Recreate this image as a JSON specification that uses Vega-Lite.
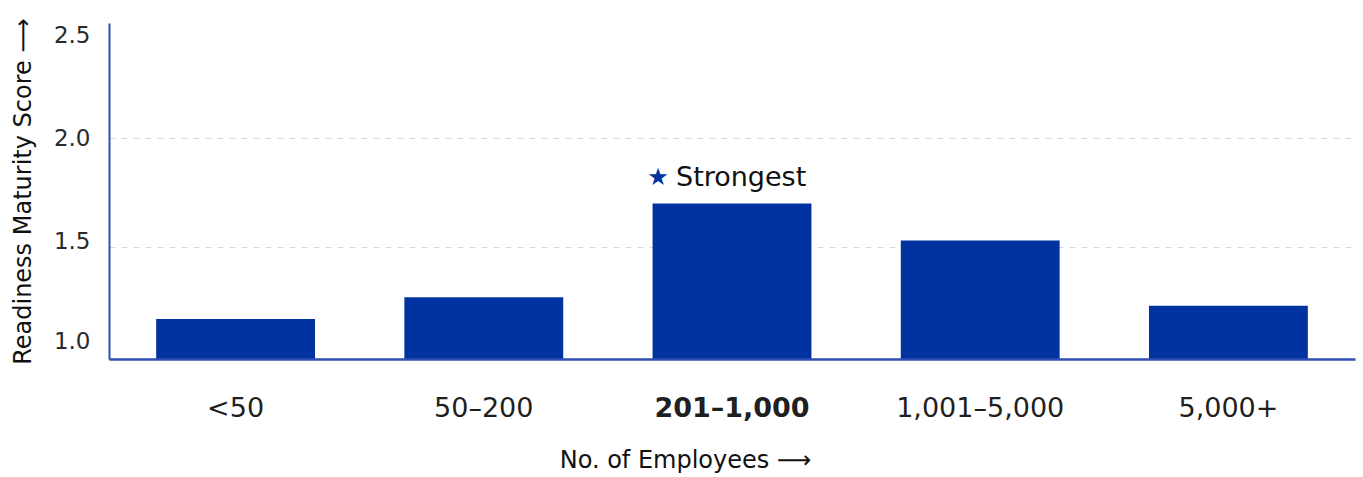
{
  "$schema": "https://vega.github.io/schema/vega-lite/v6.json",
  "autosize": "none",
  "width": 1246,
  "height": 336,
  "padding": {"left": 109, "top": 23, "right": 8, "bottom": 118},
  "background": "white",
  "config": {
    "view": {"stroke": null},
    "font": "DejaVu Sans",
    "text": {"font": "DejaVu Sans"}
  },
  "data": {
    "values": [
      {"size": "<50", "score": 1.17, "note": ""},
      {"size": "50–200", "score": 1.27, "note": ""},
      {"size": "201–1,000", "score": 1.70, "note": "Strongest"},
      {"size": "1,001–5,000", "score": 1.53, "note": ""},
      {"size": "5,000+", "score": 1.23, "note": ""}
    ]
  },
  "encoding": {
    "x": {
      "field": "size",
      "type": "nominal",
      "sort": null,
      "scale": {"paddingInner": 0.36, "paddingOuter": 0.19},
      "axis": {
        "title": "No. of Employees ⟶",
        "titleFont": "DejaVu Sans",
        "titleFontSize": 24,
        "titleFontWeight": "normal",
        "titleColor": "#111111",
        "titleX": 576,
        "titleY": 101,
        "titleBaseline": "middle",
        "labelAngle": 0,
        "labelFont": "DejaVu Sans",
        "labelFontSize": 27,
        "labelColor": "#1f1f1f",
        "labelFontWeight": {"condition": {"test": "datum.value == '201–1,000'", "value": "bold"}, "value": "normal"},
        "labelBaseline": "middle",
        "labelPadding": 49,
        "ticks": false,
        "tickSize": 0,
        "domainColor": "#2d4fb3",
        "domainWidth": 2.5,
        "grid": false,
        "zindex": 1
      }
    },
    "y": {
      "field": "score",
      "type": "quantitative",
      "scale": {"domain": [0.986, 2.529], "zero": false, "nice": false},
      "axis": {
        "title": "Readiness Maturity Score ⟶",
        "titleFont": "DejaVu Sans",
        "titleFontSize": 24,
        "titleFontWeight": "normal",
        "titleColor": "#111111",
        "titlePadding": 18,
        "values": [1, 1.5, 2, 2.5],
        "format": ".1f",
        "labelFont": "DejaVu Sans",
        "labelFontSize": 23,
        "labelColor": "#2a2a2a",
        "labelPadding": 19,
        "labelOffset": {"condition": [{"test": "datum.value == 1", "value": -14}, {"test": "datum.value == 1.5", "value": -6}, {"test": "datum.value == 2.5", "value": 6}], "value": 0},
        "ticks": false,
        "tickSize": 0,
        "domainColor": "#2d4fb3",
        "domainWidth": 2,
        "grid": true,
        "gridColor": "#d9d9d9",
        "gridDash": [6, 6],
        "gridWidth": 1,
        "gridOpacity": {"condition": {"test": "datum.value == 1.5 || datum.value == 2", "value": 1}, "value": 0}
      }
    }
  },
  "layer": [
    {
      "mark": {"type": "bar", "color": "#0033a0"},
      "encoding": {"y2": {"datum": 0.986}}
    },
    {
      "transform": [{"filter": "datum.note != ''"}],
      "mark": {"type": "text", "text": "★", "color": "#0033a0", "fontSize": 24, "align": "center", "baseline": "middle", "dx": -74, "dy": -26}
    },
    {
      "transform": [{"filter": "datum.note != ''"}],
      "mark": {"type": "text", "color": "#111111", "fontSize": 27, "align": "left", "baseline": "middle", "dx": -56, "dy": -26, "font": "DejaVu Sans"},
      "encoding": {"text": {"field": "note"}}
    }
  ]
}
